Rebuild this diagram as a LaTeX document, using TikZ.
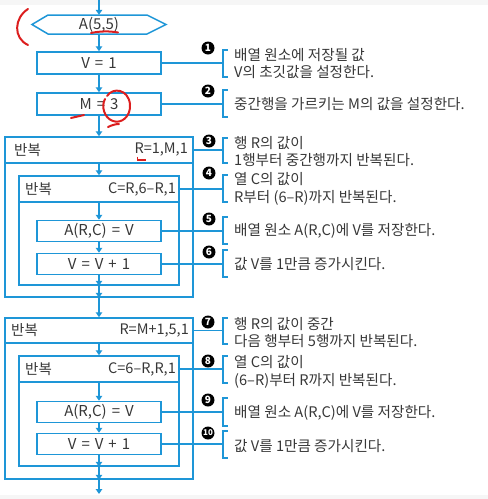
\documentclass[tikz,border=0pt]{standalone}
\usepackage{fontspec}
\setmainfont{Noto Sans CJK KR}
\usetikzlibrary{arrows.meta}
\definecolor{fb}{RGB}{30,150,215}
\definecolor{tx}{RGB}{55,55,55}
\definecolor{rd}{RGB}{220,30,30}
\newcommand\gp{\hspace{5pt}}
\begin{document}
\begin{tikzpicture}[x=1pt,y=-1pt,
 boxst/.style={draw=fb,line width=1.5pt,minimum width=124pt,minimum height=21pt,inner sep=0pt,font=\fontsize{15}{16}\selectfont,text=tx},
 loopst/.style={draw=fb,line width=1.5pt,inner sep=0pt},
 flow/.style={draw=fb,line width=1.3pt,-{Triangle[length=5pt,width=6.5pt]}},
 link/.style={draw=fb,line width=1.2pt},
 brk/.style={draw=fb,line width=1.5pt},
 bul/.style={circle,fill=black,text=white,inner sep=0pt,minimum size=13pt,font=\fontsize{10}{10}\selectfont\bfseries},
 note/.style={anchor=west,text=tx,font=\fontsize{14.6}{17.5}\selectfont,align=left,inner sep=0pt},
 hdr/.style={text=tx,font=\fontsize{14.5}{16}\selectfont,inner sep=0pt},
 ann/.style={draw=rd,line width=2pt,line cap=round}
]
\useasboundingbox (0,0) rectangle (488,499);
\fill[gray!7] (0,0) rectangle (488,5);
\fill[gray!7] (0,495) rectangle (488,499);

% ---- top part
\coordinate (top) at (99,0);
\node[minimum width=118pt,minimum height=19pt,inner sep=0pt,font=\fontsize{15}{16}\selectfont,text=tx] (hex) at (99,24.5) {A(5,5)};
\draw[fb,line width=1.5pt] (32,24.5) -- (48,15) -- (147,15) -- (166,24.5) -- (147,34) -- (48,34) -- cycle;
\node[boxst,minimum height=22pt] (v1) at (99,63) {V\gp=\gp1};
\node[boxst,minimum height=22pt] (m) at (99,104) {M\gp=\gp3};

% ---- loop 1
\node[loopst,minimum width=188pt,minimum height=160pt] (o1) at (99,217) {};
\node[loopst,minimum width=188pt,minimum height=26pt] (o1h) at (99,150) {};
\node[hdr,anchor=west] (o1t) at (14,150) {반복};
\node[hdr,anchor=east] (o1r) at (188,150) {R=1,M,1};
\node[loopst,minimum width=160pt,minimum height=109pt] (i1) at (99,230.5) {};
\node[loopst,minimum width=160pt,minimum height=26pt] (i1h) at (99,189) {};
\node[hdr,anchor=west] (i1t) at (25,189) {반복};
\node[hdr,anchor=east] (i1r) at (176,189) {C=R,6–R,1};
\node[boxst] (a1) at (99,231) {A(R,C)\gp=\gp V};
\node[boxst] (b1) at (99,264) {V\gp=\gp V\gp+\gp1};

% ---- loop 2
\node[loopst,minimum width=188pt,minimum height=161pt] (o2) at (99,398.5) {};
\node[loopst,minimum width=188pt,minimum height=25pt] (o2h) at (99,330.5) {};
\node[hdr,anchor=west] (o2t) at (11,330.5) {반복};
\node[hdr,anchor=east] (o2r) at (189,330.5) {R=M+1,5,1};
\node[loopst,minimum width=160pt,minimum height=110pt] (i2) at (99,411) {};
\node[loopst,minimum width=160pt,minimum height=26pt] (i2h) at (99,369) {};
\node[hdr,anchor=west] (i2t) at (25,369) {반복};
\node[hdr,anchor=east] (i2r) at (176,369) {C=6–R,R,1};
\node[boxst] (a2) at (99,412) {A(R,C)\gp=\gp V};
\node[boxst] (b2) at (99,444) {V\gp=\gp V\gp+\gp1};
\coordinate (bot) at (99,494);

% ---- flow
\draw[flow] (top) -- (hex.north);
\draw[flow] (hex.south) -- (v1.north);
\draw[flow] (v1.south) -- (m.north);
\draw[flow] (m.south) -- (o1h.north);
\draw[flow] (o1h.south) -- (i1h.north);
\draw[flow] (i1h.south) -- (a1.north);
\draw[flow] (a1.south) -- (b1.north);
\draw[flow] (b1.south) -- (i1.south);
\draw[flow] (i1.south) -- (o1.south);
\draw[flow] (o1.south) -- (o2h.north);
\draw[flow] (o2h.south) -- (i2h.north);
\draw[flow] (i2h.south) -- (a2.north);
\draw[flow] (a2.south) -- (b2.north);
\draw[flow] (b2.south) -- (i2.south);
\draw[flow] (i2.south) -- (o2.south);
\draw[flow] (o2.south) -- (bot);

% ---- brackets: coordinate, bracket, connector
\foreach \n/\t/\b/\c in {k1/50/77/63, k2/90/117/104, k3/138/163/150, k4/175/202/189,
  k5/217/244/231, k6/250/277/264, k7/318/344/330.5, k8/356/383/369, k9/398/426/412, k10/431/458/444}{
  \coordinate (\n) at (223,\c);
  \draw[brk] (227.5,\t) -- (223,\t) -- (223,\b) -- (227.5,\b);
}
\draw[link] (v1.east) -- (k1);
\draw[link] (m.east) -- (k2);
\draw[link] (o1h.east) -- (k3);
\draw[link] (i1h.east) -- (k4);
\draw[link] (a1.east) -- (k5);
\draw[link] (b1.east) -- (k6);
\draw[link] (o2h.east) -- (k7);
\draw[link] (i2h.east) -- (k8);
\draw[link] (a2.east) -- (k9);
\draw[link] (b2.east) -- (k10);

% ---- bullets
\node[bul] (n1) at (208,48) {1};
\node[bul] (n2) at (208,91) {2};
\node[bul] (n3) at (209,141) {3};
\node[bul] (n4) at (209,173) {4};
\node[bul] (n5) at (209,219) {5};
\node[bul] (n6) at (209,252) {6};
\node[bul] (n7) at (208,322) {7};
\node[bul] (n8) at (208,361) {8};
\node[bul] (n9) at (208,400) {9};
\node[bul,font=\fontsize{8}{8}\selectfont\bfseries] (n10) at (208,433) {10};

% ---- notes
\node[note] (t1) at (234,63.5) {배열 원소에 저장될 값\\V의 초깃값을 설정한다.};
\node[note] (t2) at (234,104) {중간행을 가르키는 M의 값을 설정한다.};
\node[note] (t3) at (234,151.5) {행 R의 값이\\1행부터 중간행까지 반복된다.};
\node[note] (t4) at (234,189) {열 C의 값이\\R부터 (6–R)까지 반복된다.};
\node[note] (t5) at (234,231) {배열 원소 A(R,C)에 V를 저장한다.};
\node[note] (t6) at (234,264.5) {값 V를 1만큼 증가시킨다.};
\node[note] (t7) at (234,332.5) {행 R의 값이 중간\\다음 행부터 5행까지 반복된다.};
\node[note] (t8) at (234,372) {열 C의 값이\\(6–R)부터 R까지 반복된다.};
\node[note] (t9) at (234,413) {배열 원소 A(R,C)에 V를 저장한다.};
\node[note] (t10) at (234,446) {값 V를 1만큼 증가시킨다.};

% ---- red handwritten marks
\draw[ann] (28,9) .. controls (14,18) and (13,38) .. (28,45);
\draw[ann] (91,33) .. controls (100,31) and (110,31) .. (118,32.5);
\draw[ann] (71,118) -- (84,115);
\draw[ann] (107,96) .. controls (113,87) and (128,89) .. (130,104) .. controls (131,117) and (121,124) .. (113,121) .. controls (104,118) and (101,106) .. (105,99);
\draw[ann] (108,127) .. controls (112,125) and (116,124) .. (119,124);
\draw[rd,line width=1.8pt] (137.5,156.5) -- (137.5,160) -- (146,160);
\end{tikzpicture}
\end{document}
